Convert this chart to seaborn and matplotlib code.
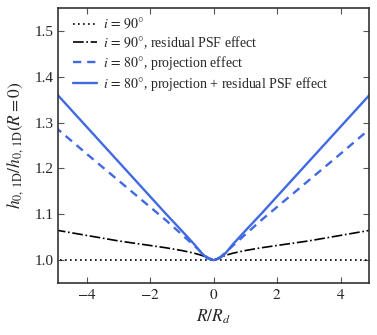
import numpy as np
import pandas as pd
import matplotlib
matplotlib.use("Agg")
import matplotlib.pyplot as plt
import seaborn as sns

# Data
R = [-5.0, -4.0, -3.0, -2.0, -1.5, -1.0, -0.6, -0.4, -0.2, 0.0,
     0.2, 0.4, 0.6, 1.0, 1.5, 2.0, 3.0, 4.0, 5.0]
i90 = [1.0] * len(R)
i90_psf = [1.066, 1.054, 1.042, 1.032, 1.027, 1.021, 1.015, 1.011, 1.006, 1.0,
           1.006, 1.011, 1.015, 1.021, 1.027, 1.032, 1.042, 1.054, 1.066]
i80_proj = [1.291, 1.232, 1.174, 1.116, 1.087, 1.056, 1.031, 1.018, 1.006, 1.0,
            1.006, 1.018, 1.031, 1.056, 1.087, 1.116, 1.174, 1.232, 1.291]
i80_proj_psf = [1.367, 1.291, 1.215, 1.139, 1.101, 1.064, 1.034, 1.017, 1.004, 1.0,
                1.004, 1.017, 1.034, 1.064, 1.101, 1.139, 1.215, 1.291, 1.367]

labels = [r"$i\,=\,90\degree$",
          r"$i\,=\,90\degree$, residual PSF effect",
          r"$i\,=\,80\degree$, projection effect",
          r"$i\,=\,80\degree$, projection + residual PSF effect"]

sns.set_style("ticks")
plt.rcParams["font.family"] = ["Liberation Serif", "DejaVu Serif"]
plt.rcParams["mathtext.fontset"] = "stix"
plt.rcParams["xtick.direction"] = "in"
plt.rcParams["ytick.direction"] = "in"

fig = plt.figure(figsize=(3.77, 3.35), dpi=100)
ax = fig.add_axes([0.154, 0.155, 0.825, 0.821])

blue = "#4169E1"
sns.lineplot(x=R, y=i90, ax=ax, color="black", lw=1.2, linestyle=(0, (1, 2)),
             label=labels[0], sort=False)
sns.lineplot(x=R, y=i90_psf, ax=ax, color="black", lw=1.2, linestyle="-.",
             label=labels[1], sort=False)
sns.lineplot(x=R, y=i80_proj, ax=ax, color=blue, lw=1.7, linestyle=(0, (3.5, 2.5)),
             label=labels[2], sort=False)
sns.lineplot(x=R, y=i80_proj_psf, ax=ax, color=blue, lw=1.7, linestyle="-",
             label=labels[3], sort=False)

ax.set_xlim(-4.9, 4.9)
ax.set_ylim(0.95, 1.55)
ax.set_xticks([-4, -2, 0, 2, 4])
ax.set_yticks([1.0, 1.1, 1.2, 1.3, 1.4, 1.5])
ax.set_xticklabels([r"$-4$", r"$-2$", r"$0$", r"$2$", r"$4$"])
ax.set_yticklabels(["1.0", "1.1", "1.2", "1.3", "1.4", "1.5"])
ax.tick_params(axis="both", which="both", top=True, right=True, labelsize=11,
               length=4, width=0.8, color="#555555")
for s in ax.spines.values():
    s.set_linewidth(1.2)
    s.set_color("#333333")

ax.set_xlabel(r"$R/R_d$", fontsize=12.5)
ax.set_ylabel(r"$h_{0,\,\rm 1D}/h_{0,\,\rm 1D}(R=0)$", fontsize=12.5, labelpad=6)

ax.legend(loc="upper left", frameon=False, fontsize=10, handlelength=1.75,
          handletextpad=0.4, labelspacing=0.2, borderpad=0.4,
          borderaxespad=0.0, bbox_to_anchor=(0.030, 0.991))

fig.savefig("out.png", dpi=100)
